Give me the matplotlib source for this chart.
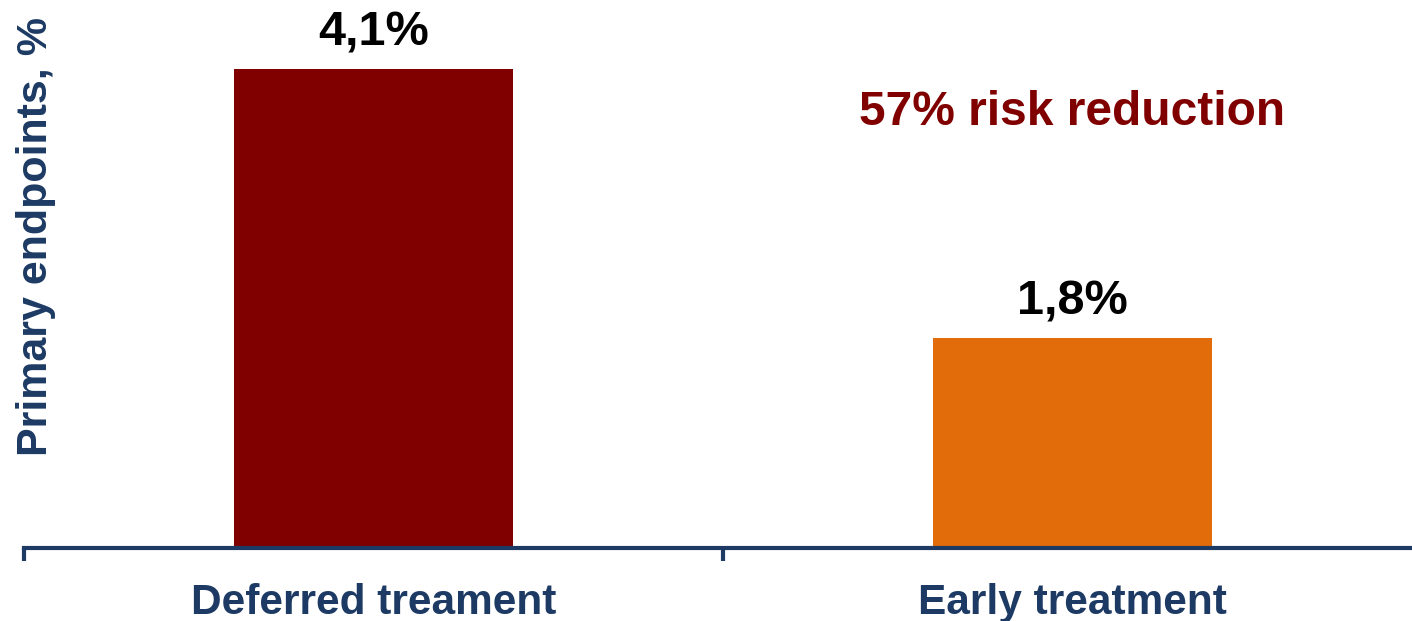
import matplotlib
matplotlib.use('Agg')
import matplotlib.pyplot as plt

plt.rcParams['font.family'] = ['Liberation Sans', 'DejaVu Sans']

# data
categories = ['Deferred treament', 'Early treatment']
values = [4.1, 1.8]
value_labels = ['4,1%', '1,8%']
bar_colors = ['#800000', '#E36C0A']
navy = '#1C3A63'

fig = plt.figure(figsize=(14.12, 6.21), dpi=100)
# axes extends past the right edge, like the original slide
ax = fig.add_axes([24/1412, (621-548)/621, 1398/1412, 526/621])

x = range(len(categories))
bars = ax.bar(x, values, width=0.4, color=bar_colors)
ax.set_xlim(-0.5, 1.5)
ax.set_ylim(0, 4.5)

for b, lab in zip(bars, value_labels):
    ax.annotate(lab, (b.get_x() + b.get_width()/2, b.get_height()),
                xytext=(0, 16.5), textcoords='offset points',
                ha='center', va='baseline', fontsize=35, fontweight='bold', color='black')

ax.text(1, 3.62, '57% risk reduction', ha='center', va='baseline',
        fontsize=34.5, fontweight='bold', color='#800000')

for s in ('top', 'right', 'left'):
    ax.spines[s].set_visible(False)
ax.spines['bottom'].set_color(navy)
ax.spines['bottom'].set_linewidth(3)
ax.set_yticks([])
ax.set_xticks([-0.5, 0.5, 1.5])
ax.set_xticklabels([])
ax.set_xticks(list(x), minor=True)
ax.set_xticklabels(categories, minor=True, fontsize=30.5, fontweight='bold', color=navy)
ax.tick_params(axis='x', which='major', length=9, width=3, color=navy, direction='out')
ax.tick_params(axis='x', which='minor', length=0, pad=25.5)

fig.text(36/1412, 1 - 237/621, 'Primary endpoints, %', rotation=90,
         ha='center', va='center', fontsize=31, fontweight='bold', color=navy)

fig.savefig('out.png', dpi=100)
